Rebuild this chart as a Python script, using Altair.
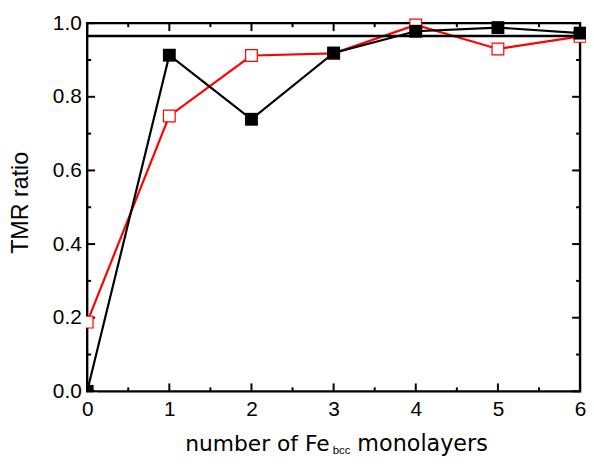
import altair as alt
import pandas as pd

# ---- data ----
layers_x = [0, 1, 2, 3, 4, 5, 6]
black_vals = [0.0, 0.913, 0.739, 0.919, 0.978, 0.988, 0.973]
red_vals = [0.188, 0.748, 0.912, 0.918, 0.995, 0.930, 0.964]
ref_level = [0.965]

x_major = [0, 1, 2, 3, 4, 5, 6]
x_minor = [0.5, 1.5, 2.5, 3.5, 4.5, 5.5]
y_major = [0.0, 0.2, 0.4, 0.6, 0.8, 1.0]
y_minor = [0.1, 0.3, 0.5, 0.7, 0.9]

x_title_parts = ["number of Fe", "bcc", "monolayers"]
y_title = "TMR ratio"

W, H = 498, 372

xs = alt.Scale(domain=[0, 6], nice=False, zero=False)
ys = alt.Scale(domain=[0, 1], nice=False, zero=False)

df = pd.DataFrame({"x": layers_x, "black": black_vals, "red": red_vals})
one = pd.DataFrame({"a": [0]})

x_axis = alt.Axis(values=x_major, format="d", ticks=False, tickSize=0, domain=False, grid=False,
                  labelFont="Liberation Sans", labelFontSize=21, labelColor="black",
                  labelPadding=7, labelFlush=False, labelOverlap=False, labelBound=False,
                  title=None, zindex=1)
y_axis = alt.Axis(values=y_major, format=".1f", ticks=False, tickSize=0, domain=False, grid=False,
                  labelFont="Liberation Sans", labelFontSize=21, labelColor="black",
                  labelPadding=6, labelFlush=False, labelOverlap=False, labelBound=False,
                  title=y_title, titleFont="Liberation Sans", titleFontSize=23.5,
                  titleFontWeight="normal", titleColor="black", titlePadding=20,
                  titleY=181, zindex=1)


def X(field):
    return alt.X(field, scale=xs, axis=x_axis)


def Y(field):
    return alt.Y(field, scale=ys, axis=y_axis)


frame = alt.Chart(one).mark_rect(fillOpacity=0, stroke="black", strokeWidth=2.4).encode(
    x=alt.value(0), x2=alt.value(W), y=alt.value(0), y2=alt.value(H))


def xticks(vals, length):
    d = pd.DataFrame({"v": vals})
    bot = alt.Chart(d).mark_rule(color="black", strokeWidth=2).encode(
        x=X("v:Q"), y=alt.value(H), y2=alt.value(H - length))
    top = alt.Chart(d).mark_rule(color="black", strokeWidth=2).encode(
        x=X("v:Q"), y=alt.value(0), y2=alt.value(length))
    return [bot, top]


def yticks(vals, length):
    d = pd.DataFrame({"v": vals})
    left = alt.Chart(d).mark_rule(color="black", strokeWidth=2).encode(
        y=Y("v:Q"), x=alt.value(0), x2=alt.value(length))
    right = alt.Chart(d).mark_rule(color="black", strokeWidth=2).encode(
        y=Y("v:Q"), x=alt.value(W), x2=alt.value(W - length))
    return [left, right]


hline = alt.Chart(pd.DataFrame({"level": ref_level})).mark_rule(color="black", strokeWidth=2.4).encode(
    y=Y("level:Q"), x=alt.value(0), x2=alt.value(W))

base = alt.Chart(df)
red_line = base.mark_line(color="#ff0000", strokeWidth=2.2).encode(x=X("x:Q"), y=Y("red:Q"))
red_pts = base.mark_point(shape="square", filled=True, fill="white", stroke="#ff0000",
                          strokeWidth=1.2, size=140, opacity=1).encode(x=X("x:Q"), y=Y("red:Q"))
black_line = base.mark_line(color="black", strokeWidth=2.2).encode(x=X("x:Q"), y=Y("black:Q"))
black_pts = base.mark_point(shape="square", filled=True, color="black", size=169,
                            opacity=1).encode(x=X("x:Q"), y=Y("black:Q"))

mask_left = alt.Chart(one).mark_rect(fill="white").encode(
    x=alt.value(-8), x2=alt.value(-1.2), y=alt.value(-10), y2=alt.value(H + 10))
mask_bottom = alt.Chart(one).mark_rect(fill="white").encode(
    x=alt.value(-10), x2=alt.value(10), y=alt.value(H + 1.2), y2=alt.value(H + 10))

t1 = alt.Chart(one).mark_text(align="right", baseline="alphabetic", font="DejaVu Sans",
                              fontSize=22, color="black").encode(
    x=alt.value(245), y=alt.value(432), text=alt.value(x_title_parts[0]))
t2 = alt.Chart(one).mark_text(align="left", baseline="alphabetic", font="Liberation Sans",
                              fontSize=11.5, color="black").encode(
    x=alt.value(248), y=alt.value(435.5), text=alt.value(x_title_parts[1]))
t3 = alt.Chart(one).mark_text(align="left", baseline="alphabetic", font="DejaVu Sans",
                              fontSize=22.5, color="black").encode(
    x=alt.value(273), y=alt.value(432), text=alt.value(x_title_parts[2]))

layers = [red_line, frame] + xticks(x_major, 8) + xticks(x_minor, 4) + yticks(y_major, 8) + \
    yticks(y_minor, 4) + [hline, red_pts, black_line, black_pts, mask_left, mask_bottom, t1, t2, t3]

chart = alt.layer(*layers).properties(
    width=W, height=H,
    autosize=alt.AutoSizeParams(type="none"),
    padding={"left": 80, "top": 13, "right": 6, "bottom": 63},
).configure_view(stroke=None).configure(background="white")

chart.save("out.html", embed_options={"renderer": "svg", "actions": False})
